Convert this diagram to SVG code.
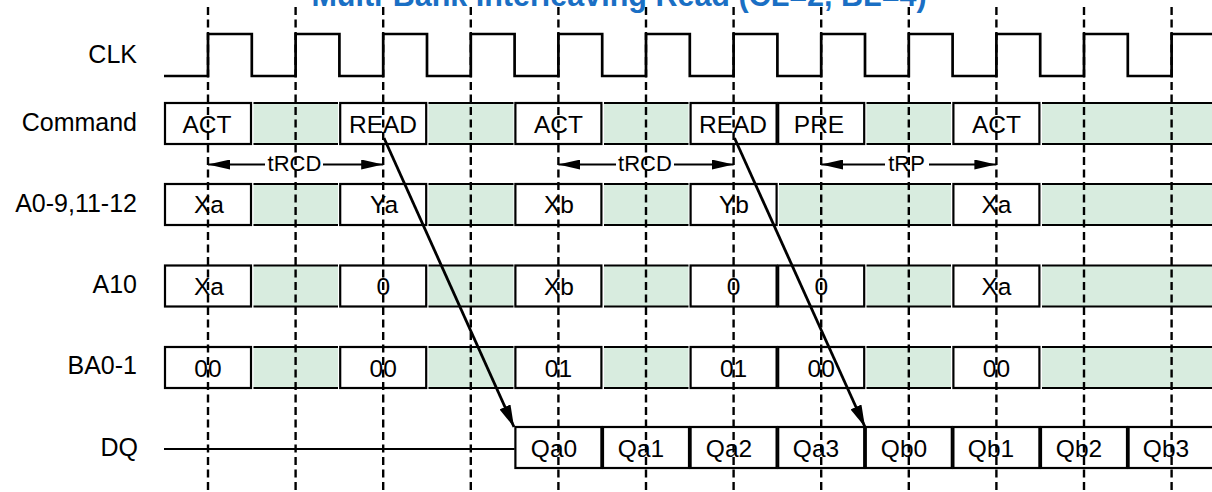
<svg xmlns="http://www.w3.org/2000/svg" width="1212" height="492" viewBox="0 0 1212 492">
<defs>
<style>
.cell{fill:#fff;stroke:#000;stroke-width:2.2}
.gf{fill:#d8ecdf;stroke:none}
.gl{fill:none;stroke:#000;stroke-width:2.2}
.t{font-family:"Liberation Sans",Arial,sans-serif;font-size:24.5px;text-anchor:middle;fill:#000}
.lbl{font-family:"Liberation Sans",Arial,sans-serif;font-size:25px;text-anchor:end;fill:#000}
.tm{font-family:"Liberation Sans",Arial,sans-serif;font-size:22px;text-anchor:middle;fill:#000}
.dash{stroke:#000;stroke-width:2.4;stroke-dasharray:8 4.5;fill:none}
.wire{stroke:#000;stroke-width:2.7;fill:none}
.arr{stroke:#000;stroke-width:2.8;fill:none}
.dim{stroke:#000;stroke-width:2;fill:none}
</style>
<marker id="ah" viewBox="0 0 22 12" refX="22" refY="6" markerWidth="22" markerHeight="12" markerUnits="userSpaceOnUse" orient="auto">
<path d="M0,0 L22,6 L0,12 z" fill="#000"/>
</marker>
<marker id="dh" viewBox="0 0 22 10" refX="22" refY="5" markerWidth="22" markerHeight="10" markerUnits="userSpaceOnUse" orient="auto">
<path d="M0,0 L22,5 L0,10 z" fill="#000"/>
</marker>
</defs>
<rect width="1212" height="492" fill="#fff"/>

<g id="labels">
<text class="lbl" x="137" y="63">CLK</text>
<text class="lbl" x="137" y="131">Command</text>
<text class="lbl" x="137" y="212">A0-9,11-12</text>
<text class="lbl" x="137" y="293">A10</text>
<text class="lbl" x="137" y="374">BA0-1</text>
<text class="lbl" x="138" y="456">DQ</text>
</g>

<g id="clk">
<path class="wire" d="M164,76 H208 V34 H251.8 V76 H295.6 V34 H339.4 V76 H383.2 V34 H427 V76 H470.8 V34 H514.6 V76 H558.4 V34 H602.2 V76 H646 V34 H689.8 V76 H733.6 V34 H777.4 V76 H821.2 V34 H865 V76 H908.8 V34 H952.6 V76 H996.4 V34 H1040.2 V76 H1084 V34 H1127.8 V76 H1171.6 V34 H1214"/>
</g>

<g id="command">
<path class="gf" d="M253.5,103 H338 V144 H253.5 Z M428.5,103 H513.5 V144 H428.5 Z M604,103 H688.5 V144 H604 Z M866.5,103 H951 V144 H866.5 Z M1042,103 H1214 V144 H1042 Z"/>
<path class="gl" d="M253.5,103 H338 M253.5,144 H338 M428.5,103 H513.5 M428.5,144 H513.5 M604,103 H688.5 M604,144 H688.5 M866.5,103 H951 M866.5,144 H951 M1042,103 H1214 M1042,144 H1214"/>
<rect class="cell" x="165" y="103" width="86" height="41"/>
<rect class="cell" x="340.2" y="103" width="86" height="41"/>
<rect class="cell" x="515.4" y="103" width="86" height="41"/>
<rect class="cell" x="690.6" y="103" width="86" height="41"/>
<rect class="cell" x="778.2" y="103" width="86" height="41"/>
<rect class="cell" x="953.4" y="103" width="86" height="41"/>
<text class="t" x="207" y="133">ACT</text>
<text class="t" x="383" y="133">READ</text>
<text class="t" x="558.4" y="133">ACT</text>
<text class="t" x="733" y="133">READ</text>
<text class="t" x="819" y="133">PRE</text>
<text class="t" x="996.4" y="133">ACT</text>
</g>

<g id="addr">
<path class="gf" d="M253.5,184 H338 V225 H253.5 Z M428.5,184 H513.5 V225 H428.5 Z M604,184 H688.5 V225 H604 Z M779,184 H951 V225 H779 Z M1042,184 H1214 V225 H1042 Z"/>
<path class="gl" d="M253.5,184 H338 M253.5,225 H338 M428.5,184 H513.5 M428.5,225 H513.5 M604,184 H688.5 M604,225 H688.5 M779,184 H951 M779,225 H951 M1042,184 H1214 M1042,225 H1214"/>
<rect class="cell" x="165" y="184" width="86" height="41"/>
<rect class="cell" x="340.2" y="184" width="86" height="41"/>
<rect class="cell" x="515.4" y="184" width="86" height="41"/>
<rect class="cell" x="690.6" y="184" width="86" height="41"/>
<rect class="cell" x="953.4" y="184" width="86" height="41"/>
<text class="t" x="209" y="213">Xa</text>
<text class="t" x="384" y="213">Ya</text>
<text class="t" x="559" y="213">Xb</text>
<text class="t" x="734" y="213">Yb</text>
<text class="t" x="996.4" y="213">Xa</text>
</g>

<g id="a10">
<path class="gf" d="M253.5,265.5 H338 V306.5 H253.5 Z M428.5,265.5 H513.5 V306.5 H428.5 Z M604,265.5 H688.5 V306.5 H604 Z M866.5,265.5 H951 V306.5 H866.5 Z M1042,265.5 H1214 V306.5 H1042 Z"/>
<path class="gl" d="M253.5,265.5 H338 M253.5,306.5 H338 M428.5,265.5 H513.5 M428.5,306.5 H513.5 M604,265.5 H688.5 M604,306.5 H688.5 M866.5,265.5 H951 M866.5,306.5 H951 M1042,265.5 H1214 M1042,306.5 H1214"/>
<rect class="cell" x="165" y="265.5" width="86" height="41"/>
<rect class="cell" x="340.2" y="265.5" width="86" height="41"/>
<rect class="cell" x="515.4" y="265.5" width="86" height="41"/>
<rect class="cell" x="690.6" y="265.5" width="86" height="41"/>
<rect class="cell" x="778.2" y="265.5" width="86" height="41"/>
<rect class="cell" x="953.4" y="265.5" width="86" height="41"/>
<text class="t" x="209" y="295">Xa</text>
<text class="t" x="383.2" y="295">0</text>
<text class="t" x="559" y="295">Xb</text>
<text class="t" x="733.6" y="295">0</text>
<text class="t" x="821.2" y="295">0</text>
<text class="t" x="996.4" y="295">Xa</text>
</g>

<g id="ba">
<path class="gf" d="M253.5,347 H338 V388 H253.5 Z M428.5,347 H513.5 V388 H428.5 Z M604,347 H688.5 V388 H604 Z M866.5,347 H951 V388 H866.5 Z M1042,347 H1214 V388 H1042 Z"/>
<path class="gl" d="M253.5,347 H338 M253.5,388 H338 M428.5,347 H513.5 M428.5,388 H513.5 M604,347 H688.5 M604,388 H688.5 M866.5,347 H951 M866.5,388 H951 M1042,347 H1214 M1042,388 H1214"/>
<rect class="cell" x="165" y="347" width="86" height="41"/>
<rect class="cell" x="340.2" y="347" width="86" height="41"/>
<rect class="cell" x="515.4" y="347" width="86" height="41"/>
<rect class="cell" x="690.6" y="347" width="86" height="41"/>
<rect class="cell" x="778.2" y="347" width="86" height="41"/>
<rect class="cell" x="953.4" y="347" width="86" height="41"/>
<text class="t" x="208" y="377">00</text>
<text class="t" x="383.2" y="377">00</text>
<text class="t" x="558.4" y="377">01</text>
<text class="t" x="733.6" y="377">01</text>
<text class="t" x="821.2" y="377">00</text>
<text class="t" x="996.4" y="377">00</text>
</g>

<g id="dq">
<path class="gl" d="M164,449 H514.6"/>
<rect class="cell" x="515.4" y="427" width="86" height="41"/>
<rect class="cell" x="603" y="427" width="86" height="41"/>
<rect class="cell" x="690.6" y="427" width="86" height="41"/>
<rect class="cell" x="778.2" y="427" width="86" height="41"/>
<rect class="cell" x="865.8" y="427" width="86" height="41"/>
<rect class="cell" x="953.4" y="427" width="86" height="41"/>
<rect class="cell" x="1041" y="427" width="86" height="41"/>
<rect class="cell" x="1128.6" y="427" width="90" height="41"/>
<text class="t" x="554" y="457">Qa0</text>
<text class="t" x="641" y="457">Qa1</text>
<text class="t" x="729" y="457">Qa2</text>
<text class="t" x="816" y="457">Qa3</text>
<text class="t" x="904" y="457">Qb0</text>
<text class="t" x="991" y="457">Qb1</text>
<text class="t" x="1079" y="457">Qb2</text>
<text class="t" x="1166" y="457">Qb3</text>
</g>

<g id="grid">
<path class="dash" d="M208,7 V492 M295.6,7 V492 M383.2,7 V492 M470.8,7 V492 M558.4,7 V492 M646,7 V492 M733.6,7 V492 M821.2,7 V492 M908.8,7 V492 M996.4,7 V492 M1084,7 V492 M1171.6,7 V492"/>
</g>

<g id="connectors">
<line class="arr" x1="384" y1="138" x2="514" y2="427" marker-end="url(#ah)"/>
<line class="arr" x1="734.5" y1="138" x2="865" y2="427" marker-end="url(#ah)"/>
<line class="dim" x1="265" y1="164.5" x2="208" y2="164.5" marker-end="url(#dh)"/>
<line class="dim" x1="323" y1="164.5" x2="383.2" y2="164.5" marker-end="url(#dh)"/>
<text class="tm" x="294.5" y="171">tRCD</text>
<line class="dim" x1="616" y1="164.5" x2="558.4" y2="164.5" marker-end="url(#dh)"/>
<line class="dim" x1="674" y1="164.5" x2="733.6" y2="164.5" marker-end="url(#dh)"/>
<text class="tm" x="645" y="171">tRCD</text>
<line class="dim" x1="885" y1="164.5" x2="821.2" y2="164.5" marker-end="url(#dh)"/>
<line class="dim" x1="929" y1="164.5" x2="996.4" y2="164.5" marker-end="url(#dh)"/>
<text class="tm" x="906.5" y="171">tRP</text>
</g>

<text x="619" y="5.5" font-family="'Liberation Sans',Arial,sans-serif" font-size="30.5" font-weight="bold" fill="#1a6fc4" text-anchor="middle">Multi-Bank Interleaving Read (CL=2, BL=4)</text>
</svg>
